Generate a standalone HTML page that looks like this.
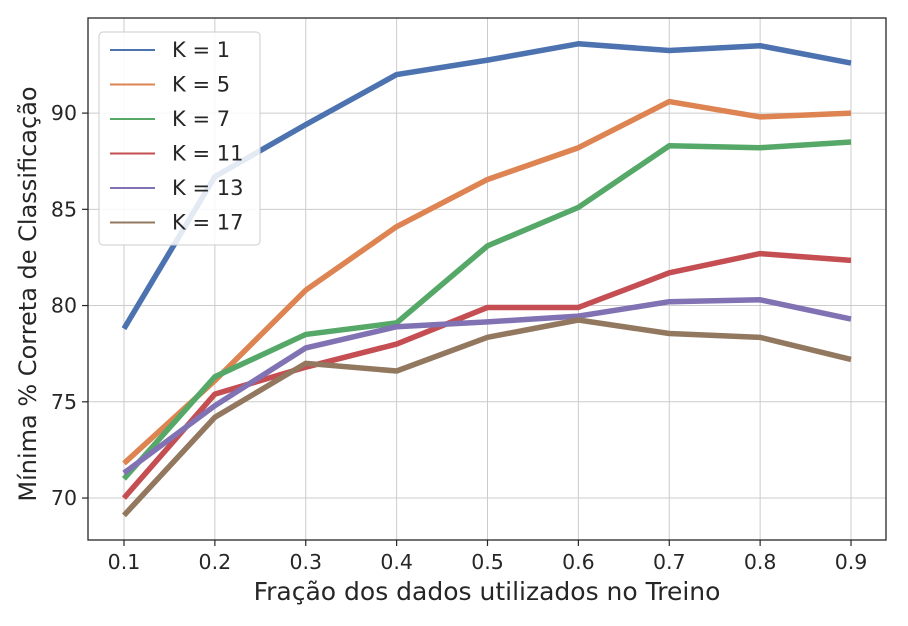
<!DOCTYPE html>
<html><head><meta charset="utf-8"><style>
body{margin:0;background:#fff;}
svg text{font-family:"DejaVu Sans","Liberation Sans",sans-serif;fill:#262626;}
</style></head><body>
<svg id="c" width="908" height="621" xmlns="http://www.w3.org/2000/svg"></svg>
<script>
const xValues=[0.1,0.2,0.3,0.4,0.5,0.6,0.7,0.8,0.9];
const seriesNames=["K = 1","K = 5","K = 7","K = 11","K = 13","K = 17"];
const k1=[78.8,86.7,89.4,92.0,92.75,93.6,93.25,93.5,92.6];
const k5=[71.8,76.1,80.8,84.1,86.55,88.2,90.6,89.8,90.0];
const k7=[71.0,76.3,78.5,79.1,83.1,85.1,88.3,88.2,88.5];
const k11=[70.0,75.4,76.8,78.0,79.9,79.9,81.7,82.7,82.35];
const k13=[71.3,74.8,77.8,78.9,79.15,79.45,80.2,80.3,79.3];
const k17=[69.1,74.2,77.0,76.6,78.35,79.25,78.55,78.35,77.2];
const xTicks=[0.1,0.2,0.3,0.4,0.5,0.6,0.7,0.8,0.9];
const yTicks=[70,75,80,85,90];
const colors=["#4C72B0","#DD8452","#55A868","#C44E52","#8172B3","#937860"];
const series=[k1,k5,k7,k11,k13,k17];
const L=88,R=886,T=18,B=540;
const xMin=0.0604,xMax=0.9385,yMin=67.82,yMax=94.94;
const sx=v=>L+(v-xMin)/(xMax-xMin)*(R-L);
const sy=v=>B-(v-yMin)/(yMax-yMin)*(B-T);
const svg=document.getElementById('c');
const NS="http://www.w3.org/2000/svg";
function mk(t,a,p){const e=document.createElementNS(NS,t);for(const k in a)e.setAttribute(k,a[k]);(p||svg).appendChild(e);return e;}
xTicks.forEach(v=>{
 const g=mk('line',{x1:sx(v),x2:sx(v),y1:T,y2:B,stroke:'#cccccc','stroke-width':1});
 
 
 const tk=mk('line',{x1:sx(v),x2:sx(v),y1:B,y2:B+6,stroke:'#262626','stroke-width':1.2});
 
 
 const t=mk('text',{x:sx(v),y:B+29,'text-anchor':'middle','font-size':20.5});
 t.textContent=v.toFixed(1);
 
 
});
yTicks.forEach(v=>{
 const g=mk('line',{x1:L,x2:R,y1:sy(v),y2:sy(v),stroke:'#cccccc','stroke-width':1});
 
 
 const tk=mk('line',{x1:L-6,x2:L,y1:sy(v),y2:sy(v),stroke:'#262626','stroke-width':1.2});
 
 
 const t=mk('text',{x:L-11,y:sy(v)+7,'text-anchor':'end','font-size':20.5});
 t.textContent=v;
 
 
});
series.forEach((s,i)=>{
 const p=mk('polyline',{points:s.map((v,j)=>sx(xValues[j])+','+sy(v)).join(' '),fill:'none',stroke:colors[i],'stroke-width':5.5,'stroke-linejoin':'round'});
 
 
});
const frame=mk('rect',{x:L,y:T,width:R-L,height:B-T,fill:'none',stroke:'#262626','stroke-width':1.3});


const lg=mk('g',{});


mk('rect',{x:99,y:32,width:161,height:213,rx:4,fill:'#fff','fill-opacity':0.85,stroke:'#cccccc'},lg);
seriesNames.forEach((n,i)=>{
 const y=50+i*34.5;
 const ln=mk('line',{x1:110,x2:155,y1:y,y2:y,stroke:colors[i],'stroke-width':2},lg);
 
 
 const t=mk('text',{x:172,y:y+7,'font-size':21},lg);
 t.textContent=n;
 
 
});
const xt=mk('text',{x:487,y:600,'text-anchor':'middle','font-size':25});
xt.textContent='Fração dos dados utilizados no Treino';


const yt=mk('text',{x:0,y:0,'text-anchor':'middle','font-size':24,transform:'translate(36,294) rotate(-90)'});
yt.textContent='Mínima % Correta de Classificação';


</script>
</body></html>
